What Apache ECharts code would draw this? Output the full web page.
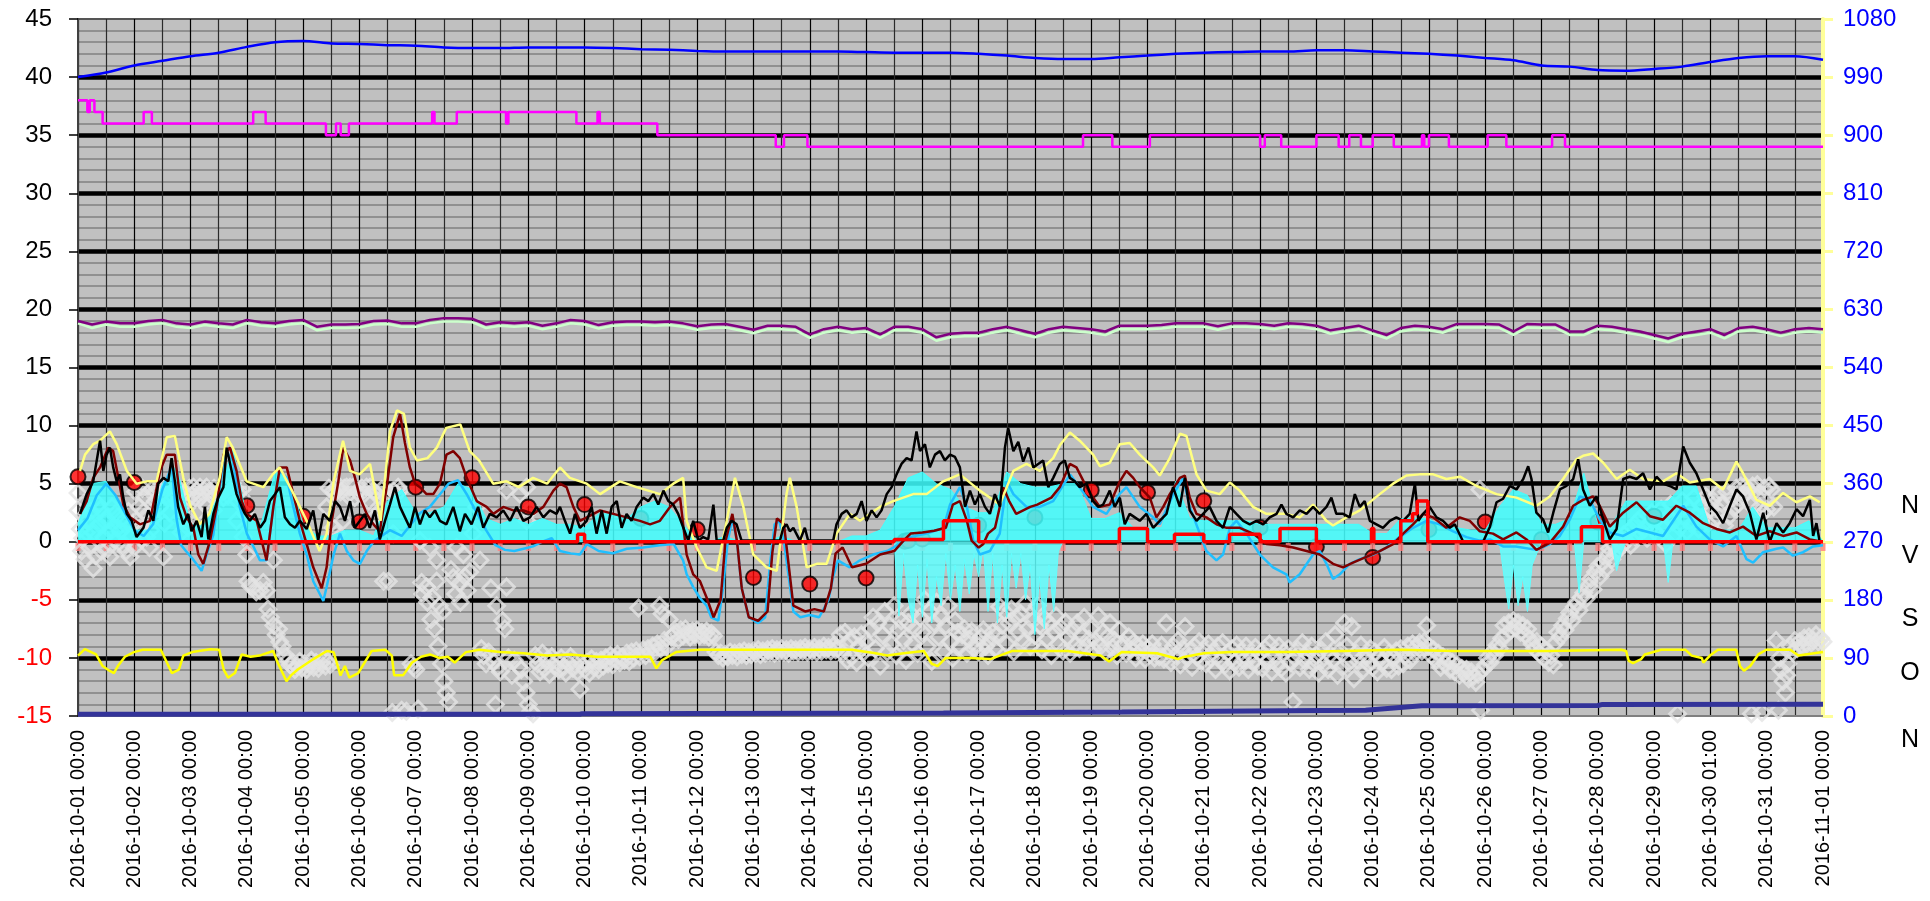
<!DOCTYPE html>
<html><head><meta charset="utf-8">
<script src="https://cdn.jsdelivr.net/npm/echarts@6/dist/echarts.min.js"></script>
<style>html,body{margin:0;padding:0;background:#fff}#c{width:1930px;height:901px}</style>
</head><body><div id="c"></div>
<script>
// x positions are hours since 2016-10-01 00:00
const xLabels = ['2016-10-01 00:00','2016-10-02 00:00','2016-10-03 00:00','2016-10-04 00:00','2016-10-05 00:00','2016-10-06 00:00','2016-10-07 00:00','2016-10-08 00:00','2016-10-09 00:00','2016-10-10 00:00','2016-10-11 00:00','2016-10-12 00:00','2016-10-13 00:00','2016-10-14 00:00','2016-10-15 00:00','2016-10-16 00:00','2016-10-17 00:00','2016-10-18 00:00','2016-10-19 00:00','2016-10-20 00:00','2016-10-21 00:00','2016-10-22 00:00','2016-10-23 00:00','2016-10-24 00:00','2016-10-25 00:00','2016-10-26 00:00','2016-10-27 00:00','2016-10-28 00:00','2016-10-29 00:00','2016-10-30 01:00','2016-10-31 00:00','2016-11-01 00:00'];
const rightLetters = ['N','V','S','O','N'];

// every 12 h
const blueTop = [40.0,40.4,41.0,41.4,41.8,42.1,42.6,43.0,43.1,42.9,42.85,42.75,42.7,42.55,42.5,42.5,42.55,42.55,42.55,42.5,42.4,42.35,42.25,42.2,42.2,42.2,42.2,42.2,42.15,42.1,42.1,42.1,42.0,41.85,41.65,41.55,41.55,41.7,41.85,42.0,42.1,42.15,42.2,42.2,42.3,42.3,42.2,42.1,42.0,41.85,41.65,41.45,41.0,40.9,40.6,40.55,40.7,40.9,41.3,41.65,41.8,41.8,41.5];
// [hour, level] change points
const magentaSteps = [[0,38],[4,37],[5,38],[7,37],[10.5,36],[28,37],[31.5,36],[74.7,37],[80,36],[105.7,35],[110,36],[112,35],[115.5,36],[151,37],[152,36],[161.5,37],[182.5,36],[183.5,37],[212.5,36],[221.5,37],[222.5,36],[247,35],[297.5,34],[301,35],[311,34],[428.5,35],[441,34],[457,35],[504,34],[506,35],[513,34],[528,35],[537.5,34],[542,35],[547,34],[552,35],[561,34],[573,35],[574,34],[576,35],[584.5,34],[601,35],[609,34],[628.5,35],[634,34],[744,34]];
// every 6 h
const purple = [19.0,18.7,18.95,18.8, 18.8,19.0,19.1,18.8, 18.7,18.95,18.8,18.7, 19.1,18.9,18.8,19.0, 19.1,18.5,18.7,18.7, 18.75,19.0,19.05,18.8, 18.8,19.1,19.25,19.25, 19.2,18.7,18.9,18.8, 18.9,18.6,18.8,19.1, 19.0,18.65,18.9,18.95, 18.95,18.9,18.95,18.8, 18.55,18.7,18.75,18.5, 18.25,18.6,18.6,18.5, 17.85,18.3,18.5,18.3, 18.4,17.85,18.5,18.5, 18.3,17.6,17.9,18.0, 18.0,18.3,18.5,18.2, 17.9,18.3,18.5,18.4, 18.3,18.1,18.6,18.6, 18.6,18.65,18.8,18.8, 18.8,18.55,18.8,18.8, 18.75,18.6,18.8,18.75, 18.6,18.2,18.4,18.6, 18.2,17.8,18.4,18.6, 18.5,18.3,18.75,18.75, 18.75,18.7,18.1,18.75, 18.7,18.7,18.1,18.1, 18.6,18.5,18.3,18.1, 17.8,17.5,17.9,18.1, 18.3,17.8,18.4,18.5, 18.3,18.0,18.3,18.4, 18.3];
const green = [18.8,18.4,18.7,18.5, 18.5,18.7,18.8,18.5, 18.4,18.65,18.5,18.4, 18.8,18.6,18.5,18.7, 18.8,18.2,18.4,18.4, 18.45,18.7,18.75,18.5, 18.5,18.8,18.95,18.95, 18.9,18.4,18.6,18.5, 18.6,18.3,18.5,18.8, 18.7,18.35,18.6,18.65, 18.65,18.6,18.65,18.5, 18.25,18.4,18.45,18.2, 17.95,18.3,18.3,18.2, 17.55,18.0,18.2,18.0, 18.1,17.55,18.2,18.2, 18.0,17.3,17.6,17.7, 17.7,18.0,18.2,17.9, 17.6,18.0,18.2,18.1, 18.0,17.8,18.3,18.3, 18.3,18.35,18.5,18.5, 18.5,18.25,18.5,18.5, 18.45,18.3,18.5,18.45, 18.3,17.9,18.1,18.3, 17.9,17.5,18.1,18.3, 18.2,18.0,18.45,18.45, 18.45,18.4,17.8,18.45, 18.4,18.4,17.8,17.8, 18.3,18.2,18.0,17.8, 17.5,17.2,17.6,17.8, 18.0,17.5,18.1,18.2, 18.0,17.7,18.0,18.1, 18.0];
const yellowLight = [[0.85,6.1],[3,7.5],[6.5,8.4],[9.4,8.7],[13.6,9.5],[16.5,8.4],[20.8,6.1],[25,5.0],[29.3,5.2],[33.5,5.2],[37.8,9.0],[41.3,9.1],[44.9,5.5],[47.7,3.2],[51.9,1.5],[56,2.4],[60.4,5.5],[63.4,9.0],[66,8.1],[71.9,5.2],[79,4.7],[83,5.8],[86,6.4],[92,4.1],[97.5,1.8],[103,-0.8],[106,0.7],[109,5.2],[113,8.7],[116,6.1],[120,5.8],[124.5,6.7],[129,1.8],[133,9.5],[136,11.3],[139,11.0],[141.5,8.1],[144.5,7.0],[149,7.2],[153,8.1],[157,9.8],[163,10.1],[167,7.8],[171,7.0],[177,5.0],[182.7,5.2],[188,4.7],[194,5.5],[200,5.0],[205.5,6.4],[209.7,5.5],[216.9,5.0],[222.6,4.1],[231,5.2],[238.2,4.7],[248.1,4.1],[253.8,5.0],[258,5.5],[259.5,1.8],[263.8,-0.5],[268,-2.2],[272.3,-2.5],[276.6,1.8],[280.1,5.5],[283.7,3.0],[287.9,-1.1],[293.6,-2.2],[297.9,-2.5],[302.1,4.1],[303.5,5.5],[306.4,3.0],[310.7,-2.2],[315,-1.9],[319.2,-1.9],[323.4,0.7],[329.1,2.4],[333.4,1.8],[341.9,3.0],[347.6,3.5],[356.1,4.1],[361.8,4.1],[368.9,5.2],[376,5.8],[384.5,4.4],[393,3.2],[398.8,6.1],[404.4,6.7],[410.1,6.1],[415.8,7.2],[418.6,8.3],[422.9,9.4],[427.1,8.7],[432.8,7.5],[435.7,6.5],[439.9,6.8],[444.2,8.4],[448.4,8.5],[452.7,7.5],[458.4,6.4],[461.2,5.7],[465.5,7.2],[469.8,9.3],[472.6,9.1],[476.9,5.8],[481.1,4.4],[486.8,4.1],[491.1,5.1],[495.3,4.4],[501,3.0],[506.7,2.4],[515.2,2.4],[520.9,2.1],[526.6,3.2],[532.3,1.8],[535.1,1.4],[540.8,2.1],[546.5,2.7],[555,4.1],[560.7,5.0],[566.4,5.7],[572.1,5.8],[577.8,5.8],[583.4,5.4],[589.2,5.6],[596.3,4.8],[604.8,4.1],[613.3,3.8],[621.8,3.1],[627.5,3.9],[633.2,5.4],[638.9,7.1],[641.7,7.4],[646,7.6],[650.3,6.8],[656,5.4],[661.6,6.2],[667.3,5.4],[675.8,5.2],[681.5,5.9],[687.2,5.1],[695.7,5.4],[701.4,4.5],[707.1,6.9],[709.9,5.9],[715.6,3.6],[721.3,3.1],[727,4.2],[732.7,3.4],[738.4,3.9],[742.6,3.4]];
const blackLine = [[0.85,2.4],[3.7,4.1],[6.5,5.2],[9.4,8.7],[10.8,6.1],[12.2,7.5],[13.6,8.1],[15,6.4],[16.5,5.2],[17.9,5.8],[19.3,3.8],[20.8,2.4],[22.9,1.8],[25,0.4],[27.9,1.2],[30,2.7],[32.1,1.8],[34.2,5.0],[36.4,5.5],[38.5,5.2],[39.9,7.2],[41.3,5.2],[42.7,3.0],[44.9,1.5],[47,2.4],[48.4,0.9],[50.6,1.8],[52.7,0.4],[54.1,3.0],[55.6,0.2],[57.7,2.4],[59.8,3.8],[62,4.7],[63.4,8.1],[65.5,6.1],[67.6,4.1],[69.8,3.0],[71.2,2.4],[73.3,1.8],[75.4,2.4],[77.6,1.2],[79.7,1.8],[81.8,3.5],[84,4.1],[86.1,4.7],[88.2,2.1],[90.4,1.5],[92.5,1.2],[94.6,1.8],[97.5,1.1],[100.3,2.7],[102.4,0.1],[104.6,2.4],[107.4,1.8],[109.6,3.5],[111.7,3.0],[113.8,1.8],[116,3.5],[118,1.2],[120.2,1.8],[122.3,2.4],[124.4,1.2],[126.6,2.7],[128.7,0.2],[130.9,1.8],[133,3.2],[135.1,4.7],[137.3,3.0],[139.4,2.1],[141.5,1.2],[143.7,3.0],[145.8,1.5],[147.9,2.7],[150,2.1],[152.2,2.7],[154.3,1.8],[157.1,1.5],[160,3.0],[162.8,0.9],[165,2.4],[167.8,1.5],[170.6,3.0],[172.8,1.2],[175.6,2.4],[178.5,2.1],[181.3,2.7],[184.2,1.8],[187,3.0],[189.9,1.8],[192.7,2.1],[195.5,3.0],[198.4,2.1],[201.2,2.7],[204,2.4],[205.5,3.0],[207.6,1.8],[209.8,0.7],[211.9,2.4],[214,1.2],[216.9,1.8],[219,3.0],[221.1,0.7],[223.3,2.7],[225.4,0.7],[227.5,3.0],[229.7,3.5],[231.8,1.2],[233.9,2.4],[236,1.8],[238.2,3.0],[241,3.8],[243.2,3.5],[245.3,4.1],[247.4,3.2],[249.6,4.4],[251.7,3.5],[253.8,3.2],[255.9,2.4],[258.1,1.2],[260.2,0.1],[262.3,1.8],[264.5,0.1],[266.6,0.4],[268.7,0.2],[270.9,3.2],[272.3,0.1],[275.1,0.1],[276.6,1.2],[278.7,1.8],[280.8,1.5],[282.9,0.1],[299.3,0.1],[300.7,1.2],[302.1,1.5],[303.5,0.9],[305,1.2],[307.8,0.1],[309.9,1.2],[311.3,0.1],[322,0.1],[323.4,1.5],[325.6,2.4],[327.7,2.7],[329.8,2.1],[332,2.4],[334.1,3.5],[336.2,1.8],[338.4,2.7],[340.5,2.1],[342.6,2.7],[344.8,4.1],[346.9,4.7],[349,5.8],[351.1,6.7],[353.3,7.2],[355.4,7.0],[357.5,9.5],[359,7.8],[361.1,8.4],[363.2,6.4],[365.4,7.5],[367.5,7.8],[369.6,7.0],[371.8,7.5],[373.9,7.3],[376,6.4],[378.2,3.0],[380.3,4.4],[382.4,3.2],[384.5,4.1],[386.7,3.0],[388.8,2.4],[390.9,4.1],[393.1,3.0],[395.2,8.1],[396.6,9.8],[398.8,7.8],[400.9,8.6],[403,6.9],[405.2,8.1],[407.3,6.4],[409.4,6.7],[411.5,7.0],[413.7,4.7],[415.8,5.5],[418.6,6.7],[420.7,7.0],[422.9,5.5],[425,5.2],[427.1,4.7],[430,5.0],[432.8,3.5],[435,3.0],[437.1,3.2],[439.9,4.4],[442,3.0],[444.2,3.8],[446.3,1.5],[448.4,2.4],[450.6,2.1],[452.7,1.8],[455.5,2.4],[458.4,1.2],[461.2,1.8],[464.1,2.4],[466.9,4.7],[469.8,3.0],[471.9,5.5],[474,2.7],[476.9,1.8],[479.7,2.4],[482.5,3.0],[485.4,1.8],[488.2,1.2],[491.1,3.0],[493.9,2.4],[496.8,1.8],[499.6,1.5],[502.4,1.8],[505.3,1.5],[508.1,2.1],[511,2.4],[513.1,3.2],[515.2,2.4],[518.1,2.1],[520.9,2.7],[523.8,2.4],[526.6,3.0],[529.4,2.4],[532.3,3.0],[534.4,3.8],[536.5,2.4],[539.4,2.4],[542.2,2.1],[544.4,4.1],[546.5,3.0],[548.6,3.5],[550.8,1.8],[553.6,1.5],[556.4,1.2],[559.3,1.8],[562.1,2.1],[565,1.8],[567.8,2.4],[570,5.0],[571.5,1.8],[573.5,2.4],[576.3,3.0],[579.2,2.1],[582,1.8],[584.9,1.2],[587,1.5],[590.6,0],[599.1,0],[602,1.3],[604.8,3.4],[607.6,3.7],[610.5,4.8],[613.3,4.5],[616.2,5.4],[618.3,6.5],[619.7,5.4],[621.8,2.5],[624.7,1.9],[626.8,0.8],[629,2.5],[631.8,4.5],[634.6,4.8],[637.5,5.4],[639.6,7.1],[641.7,4.5],[644.6,3.1],[647.4,3.9],[650.3,1.9],[653.1,0.2],[656,1.1],[658.8,5.4],[661.6,5.6],[664.5,5.4],[667.3,5.9],[670.2,4.5],[673,5.6],[675.8,5.0],[678.7,4.8],[681.5,4.5],[684.4,8.2],[687.2,6.8],[690,5.9],[692.9,4.5],[695.7,3.1],[698.6,2.5],[701.4,1.6],[704.3,3.1],[707.1,4.5],[709.9,3.9],[712.8,2.5],[715.6,0.2],[718.5,2.5],[721.3,0],[724.2,1.6],[727,0.8],[729.8,1.6],[732.7,2.8],[735.5,2.2],[738.4,3.6],[739.8,0.5],[741.2,1.6],[742.6,0]];
// every 6 h (upper envelope of the cyan spikes)
const cyanUp = [1.5,5.0,5.2,3.0, 1.0,1.0,5.0,6.5, 1.5,1.5,4.0,8.0, 2.0,1.5,6.0,5.5, 1.5,0.5,0.5,1.0, 1.0,0.5,3.5,4.5, 2.5,2.5,3.0,5.0, 4.5,2.0,1.5,2.0, 1.5,2.0,1.5,1.5, 1.2,2.4,2.4,2.0, 3.0,3.5,3.0,1.5, 0,0,0.5,0, 0,0,0.5,0, 0,0,0,0.5, 0.5,1.0,3.0,5.5, 6.0,5.0,4.5,3.0, 2.5,2.5,6.0,5.0, 4.7,4.7,5.0,5.0, 2.0,2.0,2.5,1.2, 1.2,1.2,5.2,2.0, 1.8,1.8,1.8,1.8, 1.5,1.5,1.5,1.5, 1.5,1.5,1.5,1.5, 0.7,0.7,2.0,2.0, 2.0,1.2,1.2,1.0, 1.0,3.0,4.5,4.0, 1.5,1.5,2.0,5.9, 1.5,1.5,3.5,3.5, 3.5,3.5,4.8,4.8, 1.0,1.0,1.0,3.0, 1.2,1.2,1.2,1.8, 0];
const cyanDn = [[0,0],[348,0],[350,-6.4],[352,-1],[354,-5],[356,-7],[358,-2],[360,-6.5],[362,-1.5],[364,-7],[366,-3],[368,-5.5],[370,-1],[372,-5],[374,-2],[376,-6],[378,-1.5],[380,-4.5],[382,-1],[384,-3],[386,-0.5],[388,-6],[390,-1],[392,-7],[394,-2],[396,-6.5],[398,-1],[400,-4],[402,-1],[404,-5],[406,-2],[408,-8],[410,-3],[412,-7.5],[414,-2],[416,-6],[418,-0.8],[420,0],[606,0],[608,-3],[610,-5.8],[612,-2],[614,-5.5],[616,-3],[618,-6],[620,-2],[622,-1],[624,0],[638,0],[640,-4.4],[642,0],[654,0],[656,-2.5],[658,-1],[660,0],[676,0],[678,-3.5],[680,0],[744,0]];
const skyBlue = [[0,1.0],[4,2.0],[8,4.0],[12,5.0],[16,4.0],[20,2.5],[24,1.0],[28,0.5],[32,1.5],[36,4.5],[40,6.5],[42,2.0],[44,-0.3],[46,-0.8],[49,-1.5],[52.7,-2.5],[55,-1.0],[57.7,0.6],[60,4.1],[63,7.8],[66,7.0],[69,3.0],[72,0.7],[75,-0.5],[77.6,-1.6],[80.4,-1.6],[83.3,3.0],[86.1,6.1],[89,5.5],[91.8,3.0],[94.6,0.7],[97.5,-1.1],[100.3,-3.4],[103.1,-4.5],[104.6,-5.1],[106,-3.9],[109,-1.1],[111.7,0.7],[114.6,-0.8],[117.4,-1.6],[120.2,-1.9],[123.1,-0.8],[126,0],[128.7,0.4],[133,1.0],[138,0.5],[142,1.5],[146,2.5],[150,3.0],[154,4.0],[158,5.0],[162,5.3],[166,4.0],[170,2.5],[174,1.0],[178,-0.3],[182,-0.7],[186,-0.8],[190,-0.6],[194,-0.4],[198,0.0],[202,0.3],[205.5,-0.8],[210,-1.0],[214,-1.1],[217,-0.2],[222,-0.8],[228,-1.0],[234,-0.6],[241,-0.5],[248,-0.3],[254,-0.2],[258,-1.6],[259.5,-2.8],[262.3,-3.9],[265,-4.8],[268,-5.5],[270,-6.5],[273,-6.8],[275,-4],[277,0],[279,2.0],[281,0],[283,-4],[286,-6.5],[290,-7],[293,-6.5],[295,-2],[297,1.5],[299,1.8],[301,0],[303,-3],[305,-6],[308,-6.5],[312,-6.3],[316,-6.5],[320,-5],[322,-3],[324,-1.6],[329,-2.2],[333.4,-1.6],[339,-1.1],[345,-0.8],[347.6,-0.5],[354.7,0.4],[361.8,0.7],[369,1.2],[371.8,3.2],[376,4.7],[379,3.0],[381.7,0.1],[384.5,-1.1],[388.8,-0.8],[393,0.7],[396,5.2],[398.8,4.1],[404.4,3.0],[410.1,3.0],[415.8,3.5],[418.6,4.4],[423,5.8],[427,4.7],[432.8,3.0],[438.5,2.4],[444,4.1],[447,4.7],[452.7,3.0],[458.4,2.1],[461.2,1.5],[467,4.1],[471.2,5.5],[474,3.0],[478.3,0.7],[481.1,-0.8],[485.4,-1.6],[488.2,-1.1],[491.1,1.2],[493.9,1.8],[498.2,0.7],[503.9,-1.1],[509.5,-2.2],[515.2,-2.8],[516.6,-3.5],[520.9,-2.8],[526.6,-1.1],[529.4,-0.8],[532.3,-1.9],[535.1,-3.2],[538,-2.8],[542.2,-1.9],[546.5,-1.5],[552.2,-1.1],[557.8,-0.5],[563.5,0.4],[569.2,1.2],[574.9,1.8],[580.6,1.5],[586.3,0.9],[592,0.4],[597.7,0.1],[602,0.2],[607.6,-0.4],[613,-0.4],[621.8,-0.7],[627.5,-0.2],[631.8,0.5],[636,1.9],[640.3,3.9],[644.6,3.6],[648.8,1.9],[653.1,0.8],[658.8,0.5],[664.5,1.1],[670.2,0.8],[675.8,0.5],[684.4,3.1],[690,1.3],[695.7,0.2],[701.4,-0.4],[707.1,0.5],[711.4,-1.5],[714.2,-1.8],[718.5,-0.9],[724.2,-0.6],[727,-0.5],[731.2,-1.2],[735.5,-0.9],[739.8,-0.4],[744,-0.3]];
const darkRed = [[0.85,2.4],[3.7,3.5],[6.5,5.5],[9.4,6.4],[12.9,8.1],[15,7.8],[17.2,5.5],[19.3,3.2],[22.2,2.1],[26.4,1.5],[30.7,1.8],[35,6.1],[37.8,7.5],[41.3,7.5],[43.5,3.8],[46.3,2.1],[49.2,1.2],[51.3,-1.1],[53.4,-1.9],[56.3,0.1],[59.1,3.0],[62,7.5],[64.8,8.1],[67.6,6.1],[69.8,3.5],[71.9,2.4],[76.2,1.8],[80.4,-1.6],[83.3,3.0],[86.1,6.4],[89,6.4],[91.8,4.1],[94.6,1.8],[97.5,-0.2],[100.3,-2.2],[103.9,-4.0],[106,-2.2],[108.2,1.8],[111,5.2],[113.1,8.1],[116,7.0],[118.1,5.5],[120.2,3.8],[123.1,2.4],[126,1.5],[128.7,0.9],[131.6,4.7],[134.4,9.0],[137.3,11.0],[139.4,8.5],[141.5,6.4],[143.7,5.0],[145.8,4.7],[148.6,4.1],[151.5,4.1],[154.3,5.0],[157.1,7.5],[160,7.8],[162.8,7.2],[165.7,5.5],[170,3.5],[174.2,3.0],[177.1,2.4],[181.3,3.0],[185.6,2.7],[189.9,2.7],[194.1,2.4],[198.4,3.0],[202.7,4.4],[205.5,5.0],[208.3,4.7],[211.2,3.0],[214,1.8],[216.9,2.1],[222.6,2.7],[228.2,2.4],[233.9,2.1],[239.6,1.8],[243.9,1.5],[248.1,1.8],[252.4,3.0],[256.7,3.8],[259.5,-1.1],[262.3,-2.8],[265.2,-3.4],[268,-4.8],[271,-6.5],[274,-5],[276,0],[279,2.4],[281,0],[283,-4],[286,-6.5],[290,-6.8],[294,-6],[296,-1],[298,2.0],[301,1.5],[303,-2],[305,-5.5],[310,-6],[314,-5.8],[318,-6],[321,-4],[323,-1],[326,-0.5],[330,-2.2],[336,-1.9],[342,-1.1],[348,-0.8],[352,0.1],[355,0.7],[360,0.8],[365,0.95],[370,1.2],[373,3.2],[376,3.5],[379,1.8],[381,0.1],[384,-0.5],[386,-0.2],[388,0.7],[391,1.2],[393,3.0],[394.5,4.7],[397,3.5],[400,2.4],[403,2.7],[406,3.0],[409,3.2],[412,3.5],[415,3.8],[418.6,4.7],[422.9,6.7],[425.7,6.4],[430,4.7],[432.8,3.8],[435.7,3.0],[439.9,3.2],[444.2,5.2],[447,6.1],[449.9,5.5],[452.7,4.7],[457,3.8],[459.8,2.1],[462.7,3.0],[465.5,4.1],[469.8,5.5],[471.9,5.7],[474,3.8],[476.9,2.4],[481.1,2.1],[485.4,1.5],[489.7,1.2],[495.3,1.2],[501,0.7],[506.7,-0.2],[512.4,-0.3],[518.1,-0.5],[523.8,-0.8],[529.4,-1.1],[535.1,-1.9],[539.4,-2.2],[543.6,-1.8],[549.3,-1.3],[555,-0.8],[560.7,-0.2],[565,0.7],[569.2,1.5],[573.5,2.4],[577.8,2.1],[583.4,1.2],[589.1,2.1],[593.4,1.8],[597.7,0.9],[603.3,0.7],[607.6,0.2],[613.3,0.8],[617.6,0.2],[621.8,-0.7],[627.5,-0.1],[633.2,1.3],[637.5,3.1],[641.7,3.6],[646,3.9],[648.8,3.1],[653.1,1.3],[658.8,2.5],[664.5,3.4],[670.2,2.2],[675.8,1.9],[681.5,3.1],[687.2,2.5],[692.9,1.6],[698.6,1.1],[704.3,0.8],[709.9,1.3],[715.6,0.5],[721.3,0.9],[727,0.5],[732.7,0.8],[738.4,0.2],[742.6,0.05]];
const redSteps = [[0,0],[213,0.65],[216,0],[348,0.2],[369,1.8],[384,0],[444,1.15],[456,0],[467.5,0.65],[480,0],[491,0.65],[504,0],[512.5,1.15],[528,0],[551.5,1.15],[552.5,0],[564,1.8],[569,2.4],[571,3.5],[575.5,0],[641,1.3],[650,0],[744,0]];
const pinkMarks = [-0.45,-0.45,-0.45,-0.45,-0.45,-0.45,-0.45,-0.45,-0.45,-0.45,-0.45,-0.45,-0.45,-0.45,-0.45,-0.45,-0.45,-0.45,-0.45,-0.45,-0.45,-0.45,-0.45,-0.45,-0.45,-0.45,-0.45,-0.45,-0.45,-0.45,-0.45,-0.45,-0.45,-0.45,-0.45,-0.45,-0.45,-0.45,-0.45,-0.45,-0.45,-0.45,-0.45,-0.45,-0.45,-0.45,-0.45,-0.45,-0.45,-0.45,-0.45,-0.45,-0.45,-0.45,-0.45,-0.45,-0.45,-0.45,-0.45,-0.45,-0.45,-0.45,-0.45];
const redDots = [[0,5.6],[24,5.1],[72,3.1],[96,2.2],[120,1.7],[144,4.7],[168,5.5],[192,3.0],[216,3.2],[240,2.0],[264,1.05],[288,-3.07],[312,-3.64],[336,-3.12],[352.5,0.05],[354,0.1],[360,0.23],[384,1.43],[408,2.09],[432,4.44],[456,4.24],[480,3.52],[504,1.23],[528,-0.43],[552,-1.35],[576,1.05],[600,1.7],[624,0.2],[648,1.7],[672,2.2]];
const yellowBottom = [[0,-9.8],[2.9,-9.25],[7.7,-9.7],[10.5,-10.7],[13.4,-11.1],[15.3,-11.3],[17,-10.7],[20,-9.9],[23.8,-9.5],[27.6,-9.3],[35.3,-9.3],[37.2,-10.1],[40,-11.3],[43,-11.0],[44.9,-9.8],[48.7,-9.5],[56.4,-9.25],[60.2,-9.3],[62.1,-11.0],[64,-11.7],[66.9,-11.3],[69.8,-9.7],[73.6,-9.9],[77.4,-9.8],[83.2,-9.4],[85.1,-10.4],[88.9,-12.0],[90.8,-11.5],[93.7,-11.0],[100.4,-10.1],[106.1,-9.4],[109,-9.5],[111.9,-11.5],[113.8,-10.7],[115.7,-11.7],[119.5,-11.3],[125.2,-9.4],[131,-9.3],[133.8,-9.8],[134.8,-11.5],[138.6,-11.5],[142.4,-10.4],[146.3,-9.9],[150.1,-9.7],[153.9,-10.0],[157.7,-9.9],[160.6,-10.4],[165.4,-9.5],[171.1,-9.3],[180,-9.5],[190,-9.6],[200,-9.8],[210,-9.7],[221,-9.9],[235,-9.9],[244,-9.9],[246.6,-10.9],[249,-10.2],[255,-9.5],[265,-9.3],[300,-9.3],[330,-9.3],[340,-9.6],[345,-9.8],[352,-9.6],[360.6,-9.4],[364,-10.5],[366.5,-10.7],[370,-10.0],[380,-10.0],[389,-10.1],[398.4,-9.4],[422,-9.4],[436,-9.8],[439.6,-10.3],[445,-9.5],[460,-9.6],[469,-10.1],[471,-9.95],[480,-9.6],[492,-9.5],[516,-9.5],[540,-9.4],[563,-9.3],[587,-9.4],[611,-9.4],[627,-9.4],[658,-9.3],[660,-9.4],[661.2,-10.25],[663,-10.45],[666.5,-10.1],[668,-9.7],[675,-9.3],[685.4,-9.3],[688,-9.8],[692.3,-10.0],[693,-10.4],[695.8,-9.8],[699.2,-9.3],[707,-9.3],[708.6,-10.7],[710.3,-11.1],[713,-10.7],[716.4,-9.7],[719.8,-9.3],[730,-9.3],[733.5,-9.8],[744,-9.5]];
const navy = [[0,-14.85],[214,-14.85],[215,-14.8],[369,-14.75],[445,-14.65],[514,-14.55],[549,-14.5],[573,-14.12],[648,-14.1],[650,-14.0],[744,-13.98]];
const diamonds = [[0,4.2],[0,2.7],[1,1.1],[1.5,-0.8],[2,0.3],[3,-1.5],[4,1.8],[5,-0.5],[6.5,-2.3],[7,0.8],[8.7,3.2],[9,1.5],[10,-0.8],[11,0.4],[12,2.0],[13.6,-1.3],[14,0.9],[15.8,2.4],[17,1.2],[18,0.9],[19,-0.3],[20,1.5],[22.2,-1.3],[23,0.5],
[2.5,2.2],[3.5,0.8],[5.5,2.6],[7.5,-1.2],[9.5,2.8],[11.5,1.7],[12.5,-0.6],[14.5,3.0],[16,0.2],[18.5,2.0],[20.5,-0.8],[21.5,2.6],[23.5,1.5],[24,-0.5],[26.5,1.2],[28,2.6],[30.5,-0.5],[32,2.0],
[24.5,4.3],[27.5,4.6],[28.5,3.9],[31.5,4.5],[32.5,4.0],[34,4.6],[36,4.2],[37.5,4.7],[39.5,4.1],[41,3.8],[43.5,4.5],[45.5,4.2],[47.5,4.6],[48.5,4.0],[50.5,4.4],[52.5,3.9],[54,4.5],[56.5,4.1],[58,4.6],[61,4.2],[63,4.5],[65,4.3],[67,4.6],[69.5,3.9],[70,4.5],
[25,1.8],[26,3.0],[27,0.2],[29.3,0.4],[30,2.2],[31,1.0],[33,3.5],[35,3.0],[36.4,-1.3],[37,1.6],[38,4.0],[39,2.5],[40.6,4.4],[42,4.7],[43,3.2],[44,0.8],[45,2.0],[46.3,3.5],[47,1.2],
[49.2,4.7],[50,3.8],[51,2.5],[52,4.7],[53,4.2],[54.8,4.7],[55,3.0],[56,4.4],[57.7,2.7],[59,4.0],[60.5,4.4],[62,3.8],[63.4,4.7],[64,4.0],[66.2,4.7],[67.6,1.8],[68,3.5],[69,4.4],[70.5,0.4],[71,2.5],
[72,-1.1],[72.5,-3.4],[73.5,-3.8],[74.7,-3.9],[76,-4.3],[77.6,-4.2],[79,-3.5],[80.4,-4.2],[81,-5.8],[82,-6.5],[83.3,-1.6],[83.5,-7.2],[84.5,-8.0],[85.5,-7.5],[86,-8.6],[87,-9.0],[88.5,-9.8],[89.5,-10.2],[90.5,-10.6],[91.5,-10.4],[92.5,-11.0],[93.5,-10.7],[94.5,-10.3],[95.5,-10.9],
[96.5,-10.5],[97.5,-11.0],[98.5,-10.6],[99.5,-10.2],[100.5,-10.8],[101.5,-10.4],[102.5,-10.9],[103.5,-10.5],[104.5,-10.2],[105.5,-10.7],[106.5,-10.3],[107.5,-10.6],[106,3.0],[108.8,4.4],[108.8,1.2],[110.3,0.7],[111.7,4.7],[113,1.8],[114.5,4.7],[117.4,4.7],[118,3.8],[120.2,4.5],
[107,4.6],[109.5,4.2],[110.5,4.7],[112,4.3],[113.5,4.6],[115,4.0],[116,4.7],[119,4.3],[121,4.6],[122,4.1],[124.5,4.7],[126.5,4.2],[129.5,4.5],[133,4.2],[136.5,4.7],
[123,4.7],[124,3.5],[125.9,4.4],[127,2.2],[128.7,2.7],[130.3,-3.4],[131.6,3.8],[132.3,-3.4],[134,-14.7],[134.4,4.4],[134.4,0.7],[135.8,4.1],[137.3,4.4],[138,-14.5],[140,-14.6],[142,-10.5],[143,-10.8],[144,-11.0],[145,-14.4],
[145.8,0.1],[146.5,-3.5],[147,-4.5],[148.6,-3.9],[149,-5.2],[150,-0.5],[150.5,-6.7],[151,-4.8],[152,-7.5],[152.9,-1.6],[152.9,-3.4],[153.5,-9.0],[154,-5.5],[155,-10.5],[155.5,-6.0],[156,-12.0],[157,-13.0],[158,-13.8],[159,-2.4],[160,-3.1],[161,-4.5],[161.4,-0.5],[162.8,-3.6],[163,-5.2],[164.3,-1.1],[165,-3.0],[166,-4.2],[167,-2.6],
[168.5,0.7],[170,3.0],[171.4,-1.6],[172,-9.2],[173,-9.8],[174,-10.5],[175,-9.5],[176,-4.0],[177,-10.3],[178,-14.0],[178.5,-5.5],[179,-10.8],[180,-11.2],[181,-6.8],[182,-7.5],[182.7,-3.9],[182.7,4.4],[183.5,-10.0],[185,-11.5],[186,-10.2],[188.4,4.1],[188,-10.8],[189,-11.0],[190,-12.0],[191,-13.0],[191.3,4.7],[191.3,1.8],
[192,-14.0],[192.7,2.7],[193,-14.6],[194,-14.8],[195,-9.8],[196,-10.5],[197,-11.2],[198,-9.6],[199,-10.9],[200,-10.2],[201,-11.4],[202,-9.9],[203,-10.7],[204,-10.3],[205,-11.0],[206,-10.0],[207,-10.8],[208,-11.3],[209,-10.4],[210,-9.9],[211,-10.9],[212,-10.5],[213,-11.2],[214,-12.7],[215,-10.6],
[216,-11.0],[217,-10.4],[218,-11.3],[219,-10.1],[220,-10.8],[221,-10.3],[222,-11.0],[223,-10.2],[224,-10.7],[225,-10.0],[226,-10.5],[227,-9.8],[228,-10.6],[229,-10.1],[230,-9.7],[231,-10.4],[232,-9.9],[233,-10.2],[234,-9.6],[235,-10.3],[236,-9.5],[237,-10.0],[238,-9.4],[239,-5.7],[239.5,-9.9],
[241,-9.3],[242,-9.8],[243,-9.2],[244,-9.6],[245,-9.0],[246,-9.5],[247,-8.8],[248,-5.5],[248.5,-9.2],[249,-6.2],[250,-8.5],[251,-9.0],[252,-6.7],[253,-8.2],[254,-8.0],[255,-7.8],[256,-8.4],[257,-7.6],[258,-8.1],[259,-7.5],[260,-7.9],[261,-8.2],[262,-7.7],[263,-8.0],
[264,-7.6],[265,-8.1],[266,-7.8],[267,-8.0],[268,-7.7],[269,-8.2],[270,-7.9],[271,-8.1],[272,-9.5],[273,-9.8],[274,-9.6],[275,-10.0],[276,-9.7],[277,-9.9],[278,-9.5],[279,-9.8],[280,-9.6],[281,-9.9],[282,-9.5],[283,-9.7],[284,-9.4],[285,-9.8],[286,-9.5],[287,-9.7],
[288,-9.4],[289,-9.6],[290,-9.3],[291,-9.7],[292,-9.4],[293,-9.6],[294,-9.3],[295,-9.5],[296,-9.2],[297,-9.6],[298,-9.3],[299,-9.5],[300,-9.2],[301,-9.5],[302,-9.3],[303,-9.6],[304,-9.2],[305,-9.4],[306,-9.3],[307,-9.5],[308,-9.2],[309,-9.4],[310,-9.1],[311,-9.5],
[312,-9.2],[313,-9.4],[314,-9.1],[315,-9.5],[316,-9.2],[317,-9.4],[318,-9.0],[319,-9.3],[320,-9.1],[321,-9.4],[322,-9.0],[323,-9.3],[324,-9.2],[325,-8.0],[326,-9.6],[327,-7.8],[328,-10.2],[329,-8.5],[330,-9.9],[331,-8.2],[332,-10.4],[333,-9.0],[334,-8.0],[335,-9.5],
[336,-8.6],[337,-10.0],[338,-7.5],[339,-6.5],[340,-9.2],[341,-7.0],[342,-10.7],[343,-8.0],[344,-6.0],[345,-9.5],[346,-7.2],[347,-8.8],[348,-5.5],[349,-9.8],[350,-7.5],[351,-6.8],[352,-8.5],[353,-10.2],[354,-7.0],[355,-6.2],[356,-8.8],[357,-7.5],[358,-9.6],[359,-6.5],
[360,-7.8],[361,-5.0],[362,-9.0],[363,-6.0],[364,-10.3],[365,-7.0],[366,-5.2],[367,-8.2],[368,-6.5],[369,-9.5],[370,-7.2],[371,-5.5],[372,-8.6],[373,-10.0],[374,-6.8],[375,-7.8],[376,-9.0],[377,-8.0],[378,-7.5],[379,-9.6],[380,-8.4],[381,-7.7],[382,-9.2],[383,-8.8],
[384,-9.5],[385,-8.2],[386,-7.6],[387,-9.0],[388,-9.8],[389,-8.5],[390,-7.8],[391,-9.2],[392,-8.0],[393,-5.6],[394,-7.2],[395,-6.0],[396,-8.8],[397,-7.0],[398,-5.8],[399,-9.5],[400,-6.5],[401,-7.8],[402,-6.2],[403,-8.6],[404,-5.3],[405,-7.5],[406,-9.0],[407,-6.8],
[408,-8.1],[409,-5.5],[410,-7.2],[411,-9.3],[412,-6.6],[413,-8.4],[414,-7.0],[415,-9.8],[416,-7.8],[417,-6.4],[418,-8.8],[419,-7.4],[420,-9.4],[421,-6.9],[422,-8.2],[423,-9.6],[424,-7.6],[425,-8.9],[426,-7.0],[427,-9.2],[428,-8.0],[429,-6.5],[430,-9.0],[431,-8.4],
[432,-7.5],[433,-9.3],[434,-8.6],[435,-6.4],[436,-9.0],[437,-7.8],[438,-9.5],[439,-8.2],[440,-7.0],[441,-9.1],[442,-8.5],[443,-9.8],[444,-7.6],[445,-9.0],[446,-8.8],[447,-9.6],[448,-8.2],[449,-9.3],[450,-8.7],[451,-10.0],[452,-9.0],[453,-9.5],[454,-8.8],[455,-10.1],
[456,-9.2],[457,-9.7],[458,-8.8],[459,-10.0],[460,-9.4],[461,-9.9],[462,-8.9],[463,-10.1],[464,-7.0],[465,-9.5],[466,-10.4],[467,-9.0],[468,-9.8],[469,-8.5],[470,-10.6],[471,-9.2],[472,-7.3],[473,-10.0],[474,-9.4],[475,-10.8],[476,-9.0],[477,-9.9],[478,-8.6],[479,-10.3],
[480,-9.3],[481,-10.5],[482,-8.8],[483,-10.0],[484,-9.5],[485,-11.0],[486,-9.0],[487,-10.2],[488,-8.7],[489,-10.6],[490,-9.6],[491,-11.1],[492,-9.2],[493,-10.4],[494,-8.9],[495,-10.8],[496,-9.5],[497,-10.2],[498,-9.0],[499,-11.0],[500,-9.7],[501,-10.4],[502,-9.1],[503,-10.7],
[504,-9.6],[505,-10.9],[506,-9.2],[507,-10.3],[508,-8.8],[509,-11.2],[510,-9.8],[511,-10.5],[512,-9.0],[513,-10.9],[514,-9.5],[515,-11.3],[516,-9.2],[517,-10.4],[518,-13.8],[519,-10.0],[520,-9.3],[521,-10.8],[522,-8.7],[523,-10.2],[524,-9.6],[525,-11.0],[526,-9.0],[527,-10.5],
[528,-9.8],[529,-11.3],[530,-9.3],[531,-10.6],[532,-8.6],[533,-11.0],[534,-9.7],[535,-10.2],[536,-8.0],[537,-11.5],[538,-9.4],[539,-10.8],[540,-7.0],[541,-9.0],[542,-10.4],[543,-7.3],[544,-11.8],[545,-9.6],[546,-10.3],[547,-8.9],[548,-11.0],[549,-9.8],[550,-10.5],[551,-9.2],
[552,-10.8],[553,-9.5],[554,-11.2],[555,-9.9],[556,-10.4],[557,-9.1],[558,-10.9],[559,-9.6],[560,-11.0],[561,-10.0],[562,-9.4],[563,-10.7],[564,-9.2],[565,-10.5],[566,-9.8],[567,-9.0],[568,-10.2],[569,-8.8],[570,-9.6],[571,-9.0],[572,-8.7],[573,-9.4],[574,-8.6],[575,-7.2],
[576,-9.0],[577,-9.8],[578,-9.3],[579,-10.2],[580,-9.6],[581,-10.8],[582,-9.9],[583,-10.5],[584,-10.1],[585,-11.0],[586,-10.4],[587,-11.2],[588,-10.6],[589,-11.5],[590,-10.9],[591,-11.3],[592,-11.0],[593,-11.8],[594,-11.2],[595,-11.6],[596,-12.1],[597,-11.4],[597.7,4.5],[598,-14.5],[599,-11.0],
[600,-10.6],[601,-10.0],[602,-10.4],[603,-9.5],[604,-9.8],[605,-8.9],[606,-9.2],[607,-8.3],[608,-7.2],[609,-8.0],[610,-7.0],[611,-7.6],[612,-6.8],[613,-7.4],[614,-7.0],[615,-7.8],[616,-7.2],[617,-8.0],[618,-7.5],[619,-8.4],[620,-8.8],[621,-9.2],[622,-8.6],[623,-9.6],
[624,-9.0],[625,-10.0],[626,-9.4],[627,-10.4],[628,-9.8],[629,-10.6],[630,-8.7],[631,-7.8],[632,-8.2],[633,-7.2],[634,-7.6],[635,-6.6],[636,-6.1],[637,-6.8],[638,-5.6],[639,-5.2],[640,-5.9],[641,-4.8],[642,-4.4],[643,-4.9],[644,-3.8],[645,-3.2],[646,-4.1],[647,-2.6],
[648,-2.1],[649,-3.0],[650,-1.8],[651,-2.4],[652,-1.2],[653,-0.6],[654,-1.5],[655,-0.3],[656,-0.9],[657,0.2],[658,-0.4],[659,0.6],[660,0.0],[661,0.9],[662,-0.3],[663,1.3],[664,0.4],[665,1.8],[666,0.8],[667,2.2],[668,1.1],[669,0.3],[670,1.6],[671,2.5],
[672,1.0],[673,1.9],[674,0.5],[675,2.8],[676,1.4],[677,-0.2],[678,2.2],[679,3.2],[680,1.7],[681,0.7],[682,-14.8],[682.5,2.6],[683,1.2],[684,3.5],[685,2.0],[686,0.9],[687,2.9],[688,1.5],[689,3.8],[690,2.3],[691,1.1],[692,3.1],[693,2.0],[694,3.9],[695,1.6],
[696,2.8],[697,3.6],[698,1.9],[699,4.1],[700,2.6],[701,3.3],[702,1.4],[703,4.3],[704,2.2],[705,3.7],[706,2.9],[707,4.6],[708,3.3],[709,4.8],[710,3.9],[711,4.8],[712,4.5],[713,3.2],[713.5,-14.8],[714,4.8],[715,4.4],[716,4.9],[717,3.0],[718,-14.7],[718.5,2.5],[719,4.6],
[720,2.8],[721,4.8],[722,4.5],[723,3.0],[724,-8.5],[725,-14.5],[725.5,-10.0],[726,-11.0],[727,-12.0],[728,-13.0],[728.5,-11.5],[729,-10.5],[730,-9.0],[731,-9.5],[732,-8.5],[733,-9.2],[734,-8.6],[735,-9.0],[736,-8.3],[737,-8.8],[738,-8.2],[739,-8.7],[740,-8.5],[741,-8.0],[742,-8.6],[743,-8.3],[744,-8.6]];

const FONT = '"Liberation Sans", Arial, sans-serif';
function every(arr, step) { return arr.map((v, i) => [i * step, v]); }
function line(data, color, width, extra) {
  return Object.assign({ type: 'line', data: data, symbol: 'none', showSymbol: false, silent: true,
    lineStyle: { color: color, width: width }, itemStyle: { color: color }, animation: false }, extra || {});
}

const chart = echarts.init(document.getElementById('c'));
chart.setOption({
  animation: false,
  backgroundColor: '#ffffff',
  grid: { left: 78, right: 107, top: 19, bottom: 185, show: true, backgroundColor: '#c0c0c0', borderColor: '#555555', borderWidth: 2 },
  xAxis: {
    type: 'value', min: 0, max: 744, interval: 24,
    axisLine: { show: true, onZero: false, lineStyle: { color: '#808080', width: 2 } },
    axisTick: { show: false },
    minorTick: { show: false, splitNumber: 2 },
    splitLine: { show: true, lineStyle: { color: '#000000', width: 1.2 } },
    minorSplitLine: { show: true, lineStyle: { color: '#2a2a2a', width: 1.2 } },
    axisLabel: { rotate: 90, margin: 14, fontSize: 20, fontFamily: FONT, color: '#000',
      formatter: function (v) { return xLabels[Math.round(v / 24)] || ''; } }
  },
  yAxis: [
    { type: 'value', min: -15, max: 45, interval: 5, position: 'left',
      axisLine: { show: true, onZero: false, lineStyle: { color: '#404040', width: 2 } },
      axisTick: { show: true, length: 9, lineStyle: { color: '#000', width: 1.5 } },
      minorTick: { show: false, splitNumber: 5 },
      splitLine: { show: true, showMinLine: false, showMaxLine: false, lineStyle: { color: '#000000', width: 4.5 } },
      minorSplitLine: { show: true, lineStyle: { color: '#808080', width: 1.5 } },
      axisLabel: { margin: 26, fontSize: 24, fontFamily: FONT,
        color: function (v) { return parseFloat(v) < 0 ? '#ff0000' : '#000000'; } } },
    { type: 'value', min: 0, max: 1080, interval: 90, position: 'right',
      axisLine: { show: true, onZero: false, lineStyle: { color: '#ffff99', width: 4 } },
      axisTick: { show: true, length: 10, lineStyle: { color: '#ffff99', width: 3 } },
      splitLine: { show: false },
      axisLabel: { margin: 20, fontSize: 24, fontFamily: FONT, color: '#0000ff',
        formatter: function (v) { return String(v); } } }
  ],
  graphic: rightLetters.map(function (t, i) {
    const ys = [506, 556, 619, 673, 740];
    return { type: 'text', x: 1910, y: ys[i], z: 100,
      style: { text: t, font: '25px ' + FONT, fill: '#000', align: 'center', verticalAlign: 'middle', textAlign: 'center', textVerticalAlign: 'middle' } };
  }),
  series: [
    line(navy, '#333399', 5),
    line(every(green, 6), '#ccffcc', 2.5),
    line(every(purple, 6), '#800080', 2.5),
    line(every(blueTop, 12), '#0000ff', 2.5, { smooth: 0.3 }),
    line(magentaSteps, '#ff00ff', 2.5, { step: 'end' }),
    line(yellowBottom, '#ffff00', 2.5),
    line(every(cyanUp, 6), '#40ffff', 1, { areaStyle: { color: '#40ffff', opacity: 0.85 } }),
    line(cyanDn, '#60ffff', 1, { areaStyle: { color: '#60ffff', opacity: 0.85 } }),
    line(skyBlue, '#1fbfff', 2.5),
    line(darkRed, '#800000', 2.5),
    line(yellowLight, '#ffff80', 2.5),
    line(blackLine, '#000000', 2.5),
    { type: 'scatter', data: every(pinkMarks, 12), symbol: 'rect', symbolSize: [5, 8], silent: true,
      itemStyle: { color: '#ff8080' }, animation: false },
    line(redSteps, '#ff0000', 3.5, { step: 'end' }),
    { type: 'scatter', data: diamonds, symbol: 'diamond', symbolSize: 16, silent: true, animation: false,
      itemStyle: { color: 'rgba(0,0,0,0)', borderColor: '#e4e4e4', borderWidth: 2.8 } },
    { type: 'scatter', data: redDots, symbol: 'circle', symbolSize: 15, silent: true, animation: false,
      itemStyle: { color: '#ff0000', borderColor: '#000000', borderWidth: 2 } }
  ]
});
</script></body></html>
